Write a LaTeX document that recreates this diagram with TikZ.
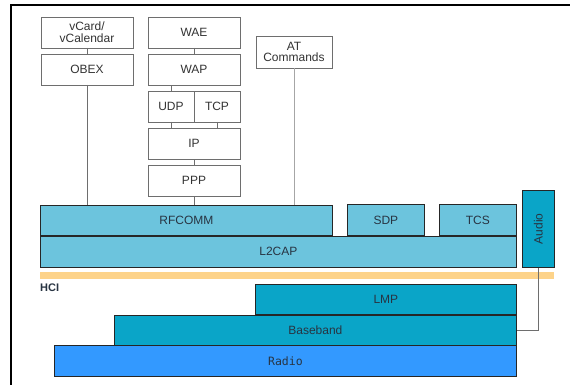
\documentclass[tikz,border=0pt]{standalone}
\usepackage{fontspec}
\setmainfont{Liberation Sans}
\newfontfamily\radiofont{DejaVu Sans Mono}
\usetikzlibrary{positioning,calc}
\definecolor{StackText}{RGB}{40,52,66}
\definecolor{UpperBlue}{RGB}{108,196,221}
\definecolor{LowerBlue}{RGB}{10,165,200}
\definecolor{RadioBlue}{RGB}{51,153,255}
\definecolor{HciBar}{RGB}{253,211,138}
\definecolor{BoxLine}{RGB}{110,110,110}

\begin{document}
\begin{tikzpicture}[
    x=1pt, y=-1pt,
    node distance=6pt,
    plainbox/.style={rectangle, draw=BoxLine, fill=white, line width=0.6pt,
        minimum width=92pt, minimum height=31pt, inner sep=0pt, outer sep=0pt,
        font=\fontsize{12}{12}\selectfont, text=black!80, align=center},
    halfbox/.style={plainbox, minimum width=46pt},
    upperbox/.style={rectangle, draw=black!85, fill=UpperBlue, line width=0.8pt,
        minimum height=30pt, inner sep=0pt, anchor=north west,
        font=\fontsize{12}{13}\selectfont, text=StackText},
    lowerbox/.style={upperbox, fill=LowerBlue},
    radiobox/.style={upperbox, fill=RadioBlue, font=\radiofont\fontsize{11.5}{13}\selectfont},
    link/.style={draw=BoxLine, line width=0.6pt},
]
\useasboundingbox (0,0) rectangle (570,385);
\draw[line width=2.4pt] (11,385) -- (11,5) -- (570,5);

% upper profiles
\node[plainbox, anchor=north west] (vcard) at (41,17) {vCard/\\vCalendar};
\node[plainbox, below=of vcard] (obex) {OBEX};
\node[plainbox, anchor=north west] (wae) at (148,17) {WAE};
\node[plainbox, below=of wae] (wap) {WAP};
\node[halfbox, anchor=north west] (udp) at ($(wap.south west)+(0,6)$) {UDP};
\node[halfbox, right=0pt of udp] (tcp) {TCP};
\node[plainbox, anchor=north west] (ip) at ($(udp.south west)+(0,6)$) {IP};
\node[plainbox, below=of ip] (ppp) {PPP};
\node[plainbox, minimum width=76pt, minimum height=32pt, font=\fontsize{12}{11}\selectfont,
    anchor=north west] (atcmd) at (256,36) {AT\\Commands};

% core stack
\node[upperbox, minimum width=292pt] (rfcomm) at (40,205) {RFCOMM};
\node[upperbox, minimum width=476pt, minimum height=31pt] (l2cap) at (rfcomm.south west) {L2CAP};
\node[upperbox, minimum width=77pt, minimum height=31pt] (sdp) at (347,204) {SDP};
\node[upperbox, minimum width=77pt, minimum height=31pt] (tcs) at (439,204) {TCS};
\node[lowerbox, minimum width=32pt, minimum height=77pt] (audio) at (522,190) {\rotatebox{90}{Audio}};

\fill[HciBar] (40,272) rectangle (554,279);
\node[anchor=west, inner sep=0pt, font=\fontsize{11}{12}\selectfont\bfseries, text=StackText] (hci) at (40,288) {HCI};

\node[lowerbox, minimum width=261pt] (lmp) at (255,284) {LMP};
\node[lowerbox, minimum width=402pt] (baseband) at (114,315) {Baseband};
\node[radiobox, minimum width=462pt, minimum height=31pt] (radio) at (54,345) {Radio};

% links
\draw[link] (vcard) -- (obex);
\draw[link] (wae) -- (wap);
\draw[link] (udp.north) -- (udp |- wap.south);
\draw[link] (udp.south) -- (udp |- ip.north);
\draw[link] (tcp.south) -- (tcp |- ip.north);
\draw[link] (ip) -- (ppp);
\draw[link] (obex.south) -- (obex |- rfcomm.north);
\draw[link] (ppp.south) -- (ppp |- rfcomm.north);
\draw[link, draw=gray!70, line width=0.9pt] (atcmd.south) -- (atcmd |- rfcomm.north);
\draw[link] (audio.south) |- (baseband.east);
\end{tikzpicture}
\end{document}
